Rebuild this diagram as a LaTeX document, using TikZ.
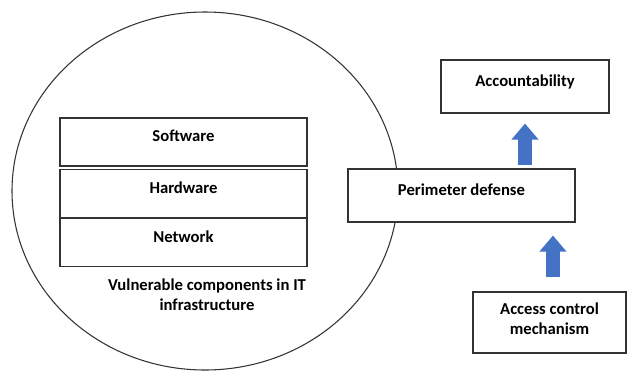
\documentclass[tikz,border=0pt]{standalone}
\usepackage{fontspec}
\setmainfont{Carlito}
\usepackage{tikz}
\usetikzlibrary{arrows.meta}

\definecolor{arrowblue}{HTML}{4472C4}
\tikzset{
  box/.style={draw=black!80, line width=0.8pt, fill=white, font=\bfseries,
    align=center, inner sep=0pt, text depth=0.7em},
  uparrow/.style={arrowblue, line width=10.5pt,
    -{Triangle[width=19.5pt,length=12pt]}}
}

\begin{document}
\begin{tikzpicture}[x=0.75pt, y=-0.75pt]
      \useasboundingbox (0,0) rectangle (627,372);
      \fontsize{12.5}{15.2}\selectfont

      % the circle of the infrastructure
      \draw[black!80, line width=0.8pt] (205,191) ellipse [x radius=193, y radius=179];

      \node[box, minimum width=185.25pt, minimum height=36pt] (soft) at (183.5,142)   {Software};
      \node[box, minimum width=185.25pt, minimum height=36pt] (hard) at (183.5,193.5) {Hardware};
      \node[box, minimum width=185.25pt, minimum height=36pt] (net)  at (183.5,242.5) {Network};
      \node[font=\bfseries, align=center] (infra) at (207,295)
        {Vulnerable components in IT\\infrastructure};

      \node[box, minimum width=126pt,    minimum height=39.75pt] (acc) at (525,86.5)    {Accountability};
      \node[box, minimum width=170.25pt, minimum height=39.75pt] (per) at (461.5,195.5) {Perimeter defense};
      \node[box, minimum width=114.75pt, minimum height=45.75pt, text depth=0.45em] (acm) at (549.5,322.5)
        {Access control\\mechanism};

      \draw[uparrow, shorten <=2.25pt, shorten >=7.5pt] (acc.south |- per.north) -- (acc.south);
      \draw[uparrow, shorten <=10.5pt, shorten >=9.75pt] ([xshift=2.6pt]acm.north) -- ([xshift=2.6pt]acm.north |- per.south);
    \end{tikzpicture}
\end{document}
